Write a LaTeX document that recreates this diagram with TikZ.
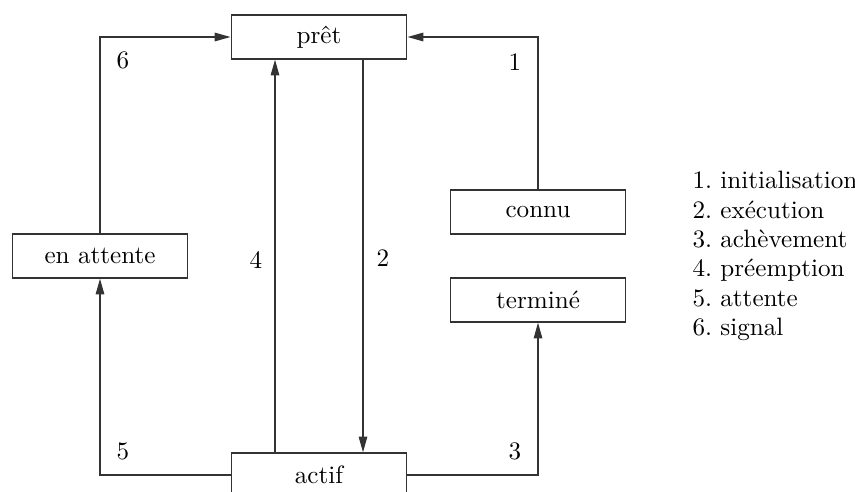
\documentclass[tikz,border=0pt]{standalone}
\usetikzlibrary{arrows.meta}
\frenchspacing
\tikzset{
  state/.style={draw=black!80, line width=0.55pt, minimum width=72pt, minimum height=18pt, inner sep=0pt, font=\fontsize{10.3}{12}\selectfont},
  conn/.style={draw=black!80, line width=0.55pt, -{Triangle[length=6.5pt,width=3.5pt]}},
  lbl/.style={font=\fontsize{10.3}{12}\selectfont, inner sep=0pt}
}
\begin{document}
\begin{tikzpicture}[x=0.41pt,y=-0.41pt]
\useasboundingbox (0,0) rectangle (855,491);
\clip (0,0) rectangle (855,491);
\node[state] (pret) at (319,37) {prêt};
\node[state] (actif) at (319,475) {actif};
\node[state] (att) at (100,256) {en attente};
\node[state] (connu) at (538,212) {connu};
\node[state] (term) at (538,300) {terminé};
% 6
\draw[conn] (att.north) |- (pret.west);
% 1
\draw[conn] (connu.north) |- (pret.east);
% 4
\draw[conn] (actif.north -| 275,0) -- (pret.south -| 275,0);
% 2
\draw[conn] (pret.south -| 363,0) -- (actif.north -| 363,0);
% 5
\draw[conn] (actif.west) -| (att.south);
% 3
\draw[conn] (actif.east) -| (term.south);
\node[lbl] (l6) at (123,60) {6};
\node[lbl] (l1) at (515,62) {1};
\node[lbl] (l4) at (256,260) {4};
\node[lbl] (l2) at (383,258) {2};
\node[lbl] (l5) at (123,451) {5};
\node[lbl] (l3) at (515,451) {3};
\node[lbl, align=left, anchor=west] (legend) at (692,256) {1. initialisation\\2. exécution\\3. achèvement\\4. préemption\\5. attente\\6. signal};
\end{tikzpicture}
\end{document}
